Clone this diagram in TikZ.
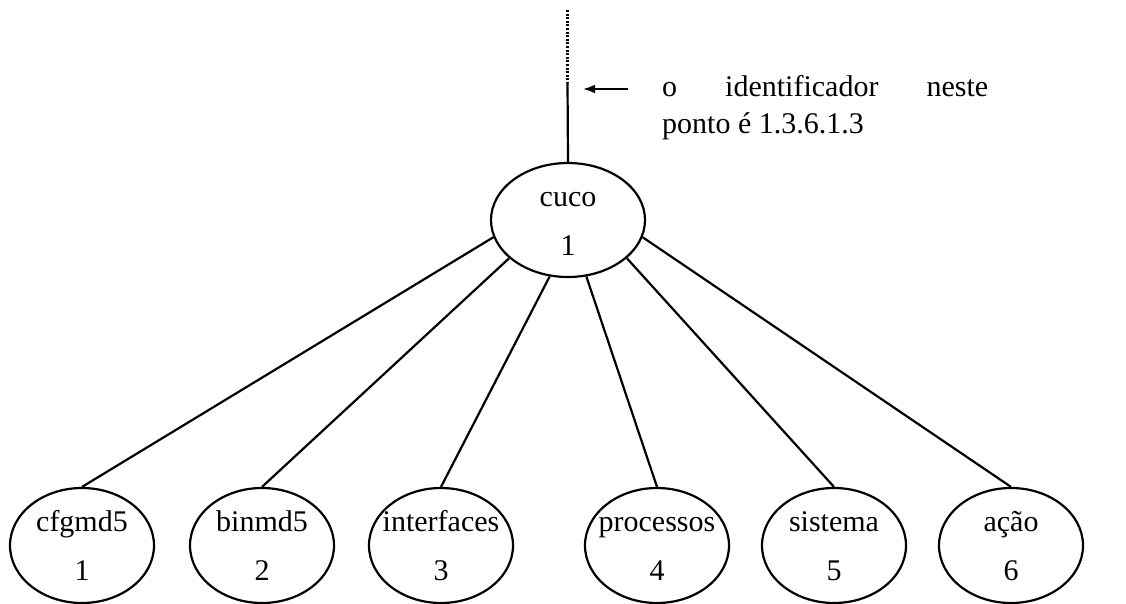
\documentclass[tikz,border=0pt]{standalone}
\usepackage{fontspec}
\setmainfont{Liberation Serif}
\usetikzlibrary{arrows.meta,shapes.geometric}
\tikzset{
  every picture/.style={x=1pt,y=-1pt},
  edge/.style={line width=2.2pt},
  oval/.style={draw, ellipse, line width=2.2pt, inner sep=0pt},
  rootoval/.style={oval, minimum width=154pt, minimum height=114pt},
  leafoval/.style={oval, minimum width=144pt, minimum height=115pt},
  ovaltext/.style={align=center, inner sep=0pt, text height=70pt, text depth=0pt,
    font=\fontsize{30}{49}\selectfont},
  note/.style={anchor=base west, inner sep=0pt, font=\fontsize{30}{37}\selectfont},
}
\begin{document}
\begin{tikzpicture}
\useasboundingbox (0,0) rectangle (1126,604);

% root of the subtree
\node[rootoval] (cuco) at (568,220) {};
\node[ovaltext] (cucot) at (cuco) {cuco\\1};

% children
\node[leafoval] (c1) at (82,545.5) {};
\node[leafoval] (c2) at (262,545.5) {};
\node[leafoval] (c3) at (441,545.5) {};
\node[leafoval] (c4) at (657,545.5) {};
\node[leafoval] (c5) at (834,545.5) {};
\node[leafoval] (c6) at (1011,545.5) {};
\node[ovaltext] (c1t) at (c1) {cfgmd5\\1};
\node[ovaltext] (c2t) at (c2) {binmd5\\2};
\node[ovaltext] (c3t) at (c3) {interfaces\\3};
\node[ovaltext] (c4t) at (c4) {processos\\4};
\node[ovaltext] (c5t) at (c5) {sistema\\5};
\node[ovaltext] (c6t) at (c6) {ação\\6};

% branches
\draw[edge] (cuco.193) -- (c1.north);
\draw[edge] (cuco.213) -- (c2.north);
\draw[edge] (cuco.252) -- (c3.north);
\draw[edge] (cuco.288) -- (c4.north);
\draw[edge] (cuco.327) -- (c5.north);
\draw[edge] (cuco.347) -- (c6.north);

% stem towards the parent
\coordinate (stemtop) at (567.5,10);
\coordinate (stemmid) at (567.5,83);
\draw[edge, dash pattern=on 2pt off 1.6pt] (stemtop) -- (stemmid);
\draw[edge] (stemmid) -- (cuco.north);

% annotation
\coordinate (arrowtail) at (628,89);
\coordinate (arrowtip) at (583,89);
\draw[line width=2.2pt, -{Latex[length=12pt,width=9pt]}] (arrowtail) -- (arrowtip);
\node[note] (note1) at (662,97) {\hbox to 326pt{o\hfill identificador\hfill neste}};
\node[note] (note2) at (662,134) {ponto é 1.3.6.1.3};
\end{tikzpicture}
\end{document}
